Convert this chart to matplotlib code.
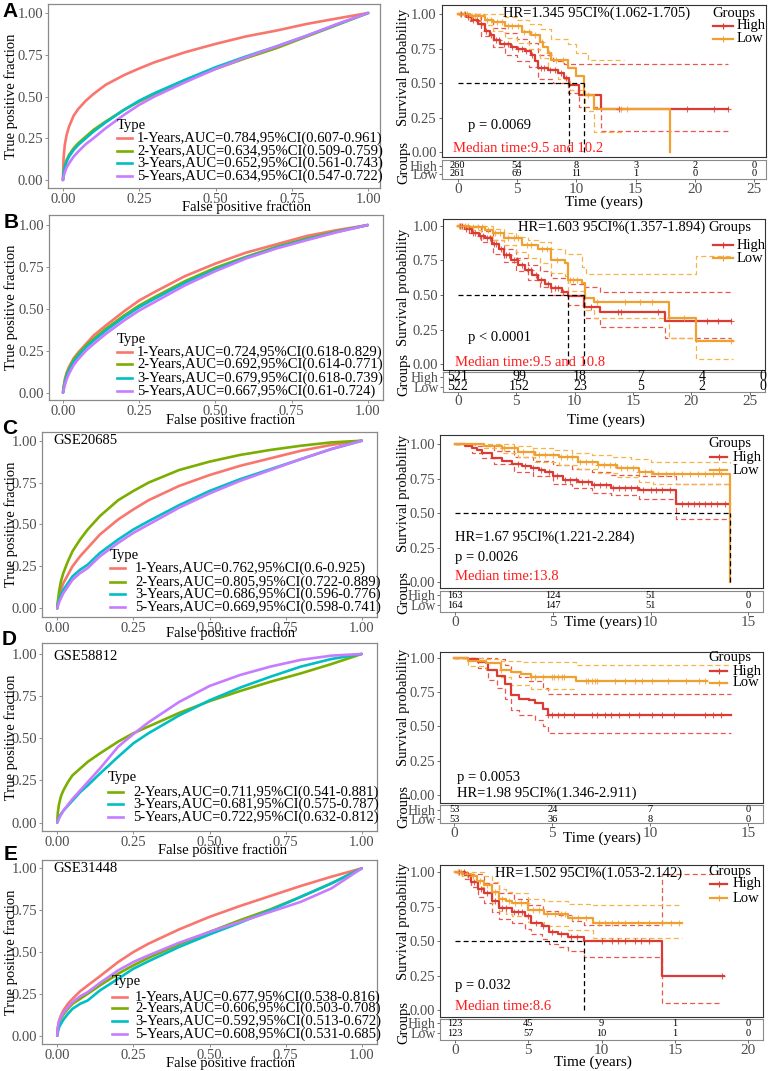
import numpy as np
import matplotlib
matplotlib.use("Agg")
import matplotlib.pyplot as plt
from matplotlib.lines import Line2D

plt.rcParams['font.family'] = ['Liberation Serif', 'DejaVu Serif']
W, H = 769, 1071

# ======================= ROC data =======================
roc_fpr = [0, 0.002, 0.006, 0.012, 0.02, 0.035, 0.05, 0.075, 0.1, 0.14, 0.2, 0.25, 0.3, 0.4, 0.5, 0.6, 0.7, 0.8, 0.9, 1.0]
rocA = [
    [0, 0.13, 0.21, 0.27, 0.32, 0.385, 0.425, 0.475, 0.515, 0.57, 0.628, 0.668, 0.705, 0.765, 0.815, 0.86, 0.895, 0.935, 0.968, 1.0],
    [0, 0.045, 0.085, 0.12, 0.15, 0.19, 0.22, 0.26, 0.30, 0.35, 0.42, 0.47, 0.515, 0.595, 0.665, 0.73, 0.79, 0.86, 0.93, 1.0],
    [0, 0.04, 0.075, 0.11, 0.14, 0.18, 0.21, 0.25, 0.29, 0.345, 0.42, 0.475, 0.52, 0.60, 0.675, 0.74, 0.80, 0.865, 0.933, 1.0],
    [0, 0.02, 0.045, 0.075, 0.10, 0.14, 0.17, 0.215, 0.25, 0.31, 0.39, 0.45, 0.50, 0.585, 0.665, 0.735, 0.80, 0.865, 0.935, 1.0],
]
rocB = [
    [0, 0.035, 0.08, 0.12, 0.155, 0.205, 0.24, 0.29, 0.34, 0.40, 0.485, 0.55, 0.60, 0.695, 0.77, 0.835, 0.885, 0.935, 0.97, 1.0],
    [0, 0.03, 0.07, 0.11, 0.145, 0.195, 0.23, 0.28, 0.32, 0.38, 0.46, 0.52, 0.57, 0.665, 0.745, 0.81, 0.87, 0.92, 0.963, 1.0],
    [0, 0.025, 0.06, 0.10, 0.135, 0.185, 0.22, 0.27, 0.31, 0.37, 0.45, 0.51, 0.56, 0.655, 0.735, 0.805, 0.865, 0.915, 0.96, 1.0],
    [0, 0.015, 0.045, 0.08, 0.115, 0.165, 0.20, 0.25, 0.29, 0.35, 0.43, 0.49, 0.54, 0.64, 0.725, 0.80, 0.86, 0.91, 0.958, 1.0],
]
rocC = [
    [0, 0.03, 0.07, 0.11, 0.15, 0.20, 0.25, 0.31, 0.36, 0.44, 0.53, 0.59, 0.645, 0.73, 0.795, 0.85, 0.895, 0.94, 0.975, 1.0],
    [0, 0.04, 0.10, 0.16, 0.21, 0.28, 0.34, 0.41, 0.47, 0.55, 0.645, 0.70, 0.75, 0.825, 0.875, 0.915, 0.945, 0.97, 0.99, 1.0],
    [0, 0.02, 0.05, 0.08, 0.11, 0.15, 0.19, 0.23, 0.26, 0.33, 0.41, 0.47, 0.52, 0.615, 0.70, 0.77, 0.83, 0.89, 0.95, 1.0],
    [0, 0.012, 0.035, 0.06, 0.09, 0.13, 0.17, 0.21, 0.24, 0.31, 0.39, 0.45, 0.50, 0.60, 0.685, 0.76, 0.825, 0.89, 0.95, 1.0],
]
rocD = [
    [0, 0.06, 0.11, 0.155, 0.19, 0.24, 0.28, 0.32, 0.36, 0.41, 0.48, 0.53, 0.57, 0.65, 0.72, 0.78, 0.835, 0.885, 0.94, 1.0],
    [0, 0.01, 0.03, 0.05, 0.07, 0.10, 0.13, 0.18, 0.22, 0.29, 0.39, 0.47, 0.53, 0.635, 0.725, 0.80, 0.865, 0.925, 0.97, 1.0],
    [0, 0.008, 0.025, 0.045, 0.07, 0.105, 0.14, 0.19, 0.24, 0.32, 0.45, 0.525, 0.595, 0.715, 0.81, 0.875, 0.925, 0.965, 0.99, 1.0],
]
rocE = [
    [0, 0.045, 0.09, 0.12, 0.15, 0.19, 0.22, 0.265, 0.30, 0.355, 0.44, 0.50, 0.55, 0.635, 0.71, 0.775, 0.835, 0.895, 0.95, 1.0],
    [0, 0.04, 0.075, 0.10, 0.125, 0.16, 0.19, 0.22, 0.25, 0.30, 0.37, 0.42, 0.465, 0.545, 0.62, 0.69, 0.755, 0.83, 0.91, 1.0],
    [0, 0.02, 0.05, 0.07, 0.095, 0.13, 0.16, 0.19, 0.21, 0.27, 0.34, 0.40, 0.445, 0.53, 0.605, 0.675, 0.75, 0.83, 0.91, 1.0],
    [0, 0.05, 0.085, 0.11, 0.135, 0.17, 0.20, 0.235, 0.26, 0.315, 0.39, 0.44, 0.48, 0.555, 0.62, 0.68, 0.74, 0.80, 0.88, 1.0],
]
labA = ["1-Years,AUC=0.784,95%CI(0.607-0.961)", "2-Years,AUC=0.634,95%CI(0.509-0.759)",
        "3-Years,AUC=0.652,95%CI(0.561-0.743)", "5-Years,AUC=0.634,95%CI(0.547-0.722)"]
labB = ["1-Years,AUC=0.724,95%CI(0.618-0.829)", "2-Years,AUC=0.692,95%CI(0.614-0.771)",
        "3-Years,AUC=0.679,95%CI(0.618-0.739)", "5-Years,AUC=0.667,95%CI(0.61-0.724)"]
labC = ["1-Years,AUC=0.762,95%CI(0.6-0.925)", "2-Years,AUC=0.805,95%CI(0.722-0.889)",
        "3-Years,AUC=0.686,95%CI(0.596-0.776)", "5-Years,AUC=0.669,95%CI(0.598-0.741)"]
labD = ["2-Years,AUC=0.711,95%CI(0.541-0.881)", "3-Years,AUC=0.681,95%CI(0.575-0.787)",
        "5-Years,AUC=0.722,95%CI(0.632-0.812)"]
labE = ["1-Years,AUC=0.677,95%CI(0.538-0.816)", "2-Years,AUC=0.606,95%CI(0.503-0.708)",
        "3-Years,AUC=0.592,95%CI(0.513-0.672)", "5-Years,AUC=0.608,95%CI(0.531-0.685)"]
roc_ticks = [0, 0.25, 0.5, 0.75, 1.0]
roc_tick_labels = ['0.00', '0.25', '0.50', '0.75', '1.00']
COL4 = ['#F8766D', '#7CAE00', '#00BFC4', '#C77CFF']
COL3 = ['#7CAE00', '#00BFC4', '#C77CFF']

# ======================= KM data =======================
# Panel A
A_high_t = [0, 0.8, 1.2, 1.7, 2.3, 2.7, 3.1, 3.6, 4.5, 5.0, 5.7, 6.2, 6.5, 6.8, 7.6, 8.5, 9.0, 9.35, 10.2, 12.1, 22.8]
A_high_s = [1.0, 0.98, 0.96, 0.93, 0.88, 0.85, 0.81, 0.78, 0.76, 0.745, 0.73, 0.70, 0.66, 0.61, 0.595, 0.57, 0.54, 0.49, 0.415, 0.31, 0.31]
A_low_t = [0, 1.0, 2.3, 3.0, 4.0, 5.4, 6.2, 6.9, 7.2, 7.6, 7.9, 9.3, 10.0, 10.65, 11.5, 17.9]
A_low_s = [1.0, 0.985, 0.96, 0.94, 0.91, 0.87, 0.85, 0.80, 0.76, 0.715, 0.67, 0.61, 0.55, 0.415, 0.31, 0.0]
A_high_up_t = [0, 1.0, 2.0, 3.0, 4.0, 5.0, 6.0, 6.8, 8.0, 9.0, 22.8]
A_high_up_s = [1.0, 1.0, 0.96, 0.90, 0.86, 0.82, 0.79, 0.70, 0.66, 0.64, 0.64]
A_high_lo_t = [0, 1.0, 2.0, 3.0, 4.0, 5.0, 6.0, 6.8, 8.0, 9.3, 10.2, 12.1, 22.8]
A_high_lo_s = [1.0, 0.95, 0.84, 0.76, 0.70, 0.66, 0.62, 0.53, 0.50, 0.43, 0.33, 0.157, 0.157]
A_low_up_t = [0, 3.0, 4.0, 5.0, 6.0, 7.0, 7.9, 9.3, 10.0, 11.0, 14.0]
A_low_up_s = [1.0, 1.0, 0.98, 0.96, 0.93, 0.89, 0.82, 0.78, 0.72, 0.667, 0.667]
A_low_lo_t = [0, 1.0, 2.0, 3.0, 4.0, 5.0, 6.0, 6.9, 7.6, 8.5, 9.5, 10.7, 11.5, 14.0]
A_low_lo_s = [1.0, 0.96, 0.92, 0.88, 0.83, 0.79, 0.75, 0.68, 0.60, 0.53, 0.45, 0.30, 0.145, 0.145]
A_high_cens = [0.3, 0.6, 0.9, 1.3, 1.6, 2.0, 2.4, 2.8, 3.2, 3.5, 3.9, 4.2, 4.6, 5.1, 5.4, 5.8, 6.3, 7.0, 7.3, 7.8, 8.2, 8.7, 9.1, 13.6, 19.3, 21.6, 22.8]
A_low_cens = [0.2, 0.5, 0.8, 1.2, 1.5, 1.9, 2.5, 2.8, 3.3, 3.7, 4.2, 4.6, 5.1, 5.6, 6.0, 6.5, 7.1, 7.7, 8.3, 8.9, 11.0, 13.8, 14.3]
A_medians = [9.35, 10.65]
A_risk_t = [0, 5, 10, 15, 20, 25]
A_risk_high = [260, 54, 8, 3, 2, 0]
A_risk_low = [261, 69, 11, 1, 0, 0]

# Panel B
B_high_t = [0, 0.6, 1.2, 1.8, 2.3, 2.9, 3.5, 4.0, 4.6, 5.2, 5.8, 6.4, 6.9, 7.5, 8.0, 8.9, 9.4, 10.8, 12.2, 17.7, 23.4]
B_high_s = [1.0, 0.98, 0.95, 0.93, 0.91, 0.87, 0.83, 0.79, 0.75, 0.715, 0.68, 0.645, 0.61, 0.58, 0.55, 0.52, 0.49, 0.415, 0.375, 0.31, 0.31]
B_low_t = [0, 1.0, 2.3, 3.0, 4.0, 5.5, 6.9, 8.0, 9.2, 9.4, 10.6, 10.9, 11.7, 18.1, 20.4, 23.6]
B_low_s = [1.0, 0.99, 0.97, 0.95, 0.91, 0.86, 0.83, 0.75, 0.73, 0.61, 0.585, 0.48, 0.45, 0.335, 0.167, 0.167]
B_high_up_t = [0, 1.0, 2.0, 3.0, 4.0, 5.0, 6.0, 7.0, 8.0, 9.4, 10.8, 12.2, 23.4]
B_high_up_s = [1.0, 1.0, 0.96, 0.90, 0.83, 0.77, 0.72, 0.67, 0.62, 0.58, 0.56, 0.52, 0.52]
B_high_lo_t = [0, 1.0, 2.0, 3.0, 4.0, 5.0, 6.0, 7.0, 8.0, 9.4, 10.8, 12.2, 17.7, 23.4]
B_high_lo_s = [1.0, 0.95, 0.88, 0.80, 0.74, 0.67, 0.61, 0.56, 0.50, 0.43, 0.33, 0.27, 0.19, 0.19]
B_low_up_t = [0, 2.0, 3.0, 4.0, 5.0, 6.0, 7.0, 8.0, 9.2, 10.6, 11.0, 20.4, 23.6]
B_low_up_s = [1.0, 1.0, 0.98, 0.95, 0.92, 0.90, 0.88, 0.83, 0.80, 0.70, 0.655, 0.78, 0.78]
B_low_lo_t = [0, 1.0, 2.0, 3.0, 4.0, 5.0, 6.0, 7.0, 8.0, 9.2, 9.4, 10.9, 11.7, 18.1, 20.4, 23.6]
B_low_lo_s = [1.0, 0.97, 0.93, 0.90, 0.86, 0.81, 0.77, 0.73, 0.66, 0.64, 0.53, 0.39, 0.33, 0.19, 0.04, 0.04]
B_high_cens = [0.2, 0.4, 0.7, 1.0, 1.3, 1.5, 1.9, 2.2, 2.5, 2.8, 3.1, 3.3, 3.7, 4.1, 4.4, 4.8, 5.1, 5.5, 6.0, 6.3, 6.7, 7.1, 7.7, 8.3, 8.6, 9.0, 11.4, 13.7, 14.0, 17.1, 21.3, 22.3, 23.4]
B_low_cens = [0.1, 0.3, 0.6, 0.9, 1.3, 1.7, 2.1, 2.6, 3.2, 3.6, 4.3, 4.8, 5.2, 5.9, 6.3, 7.2, 7.6, 8.5, 9.6, 9.9, 10.2, 11.9, 14.3, 15.6, 16.6, 19.4, 23.4]
B_medians = [9.4, 10.8]
B_risk_t = [0, 5, 10, 15, 20, 25]
B_risk_high = [521, 99, 18, 7, 4, 0]
B_risk_low = [522, 152, 23, 5, 2, 0]

# Panel C (GSE20685)
C_high_t = [0, 0.5, 0.85, 1.1, 1.4, 1.9, 2.4, 2.9, 3.4, 3.9, 4.3, 4.6, 5.0, 5.5, 6.3, 7.0, 8.0, 9.4, 11.3, 14.05]
C_high_s = [1.0, 0.99, 0.97, 0.955, 0.935, 0.90, 0.88, 0.86, 0.845, 0.83, 0.815, 0.80, 0.77, 0.74, 0.73, 0.705, 0.685, 0.67, 0.57, 0.57]
C_low_t = [0, 1.5, 2.4, 3.2, 4.1, 5.3, 6.3, 7.3, 8.3, 9.4, 10.1, 14.05]
C_low_s = [1.0, 0.99, 0.97, 0.945, 0.92, 0.905, 0.875, 0.85, 0.825, 0.80, 0.785, 0.0]
C_high_up_t = [0, 1.0, 2.0, 3.0, 4.0, 5.0, 6.0, 7.0, 8.0, 9.4, 11.3, 14.05]
C_high_up_s = [1.0, 0.99, 0.95, 0.91, 0.88, 0.85, 0.82, 0.80, 0.78, 0.77, 0.71, 0.71]
C_high_lo_t = [0, 0.85, 1.4, 2.0, 3.0, 4.0, 5.0, 6.0, 7.0, 8.0, 9.4, 11.3, 14.05]
C_high_lo_s = [1.0, 0.94, 0.90, 0.86, 0.80, 0.77, 0.71, 0.68, 0.65, 0.63, 0.60, 0.46, 0.46]
C_low_up_t = [0, 2.0, 3.0, 4.0, 5.0, 6.0, 7.0, 8.0, 9.0, 10.0, 14.05]
C_low_up_s = [1.0, 1.0, 0.99, 0.97, 0.955, 0.94, 0.925, 0.905, 0.89, 0.875, 0.865]
C_low_lo_t = [0, 1.5, 2.4, 3.2, 4.1, 5.3, 6.3, 7.3, 8.3, 9.4, 10.1, 14.05]
C_low_lo_s = [1.0, 0.97, 0.94, 0.91, 0.87, 0.85, 0.82, 0.79, 0.76, 0.73, 0.715, 0.71]
C_high_cens = [3.2, 3.6, 4.0, 4.4, 4.8, 5.2, 5.6, 5.9, 6.2, 6.5, 6.8, 7.1, 7.4, 7.7, 8.1, 8.4, 8.7, 9.0, 9.3, 9.6, 10.0, 10.3, 10.6, 11.0, 11.6, 11.9, 12.2, 12.5, 12.8, 13.1, 13.4, 13.8]
C_low_cens = [2.5, 3.0, 3.5, 4.0, 4.3, 4.6, 5.0, 5.4, 5.7, 6.0, 6.4, 6.7, 7.0, 7.3, 7.6, 7.9, 8.2, 8.5, 8.8, 9.1, 9.4, 9.7, 10.0, 10.4, 10.8, 11.2, 11.6, 12.0, 12.4, 12.8, 13.2, 13.6]
C_medians = [14.05]
C_risk_t = [0, 5, 10, 15]
C_risk_high = [163, 124, 51, 0]
C_risk_low = [164, 147, 51, 0]

# Panel D (GSE58812)
D_high_t = [0, 0.7, 1.2, 1.6, 1.7, 2.2, 2.6, 2.9, 3.3, 3.8, 4.1, 4.5, 4.8, 14.1]
D_high_s = [1.0, 0.995, 0.97, 0.96, 0.91, 0.87, 0.81, 0.73, 0.70, 0.69, 0.67, 0.63, 0.58, 0.58]
D_low_t = [0, 0.7, 1.6, 2.4, 2.9, 3.4, 3.9, 6.2, 12.9]
D_low_s = [1.0, 0.98, 0.96, 0.915, 0.90, 0.88, 0.86, 0.83, 0.83]
D_high_up_t = [0, 2.2, 2.6, 2.9, 3.3, 3.8, 4.5, 4.8, 14.1]
D_high_up_s = [1.0, 0.99, 0.95, 0.90, 0.86, 0.83, 0.78, 0.735, 0.735]
D_high_lo_t = [0, 1.2, 1.7, 2.2, 2.6, 2.9, 3.3, 4.1, 4.5, 4.8, 14.1]
D_high_lo_s = [1.0, 0.93, 0.84, 0.78, 0.70, 0.62, 0.58, 0.55, 0.50, 0.455, 0.455]
D_low_up_t = [0, 1.6, 2.4, 3.4, 6.2, 14.1]
D_low_up_s = [1.0, 0.99, 0.98, 0.97, 0.95, 0.95]
D_low_lo_t = [0, 0.7, 1.6, 2.4, 2.9, 3.9, 6.2]
D_low_lo_s = [1.0, 0.94, 0.91, 0.86, 0.80, 0.775, 0.775]
D_high_cens = [4.8, 5.0, 5.3, 5.6, 6.1, 7.0, 7.3, 7.7, 8.0, 8.4, 8.9, 9.4, 10.1, 10.6, 11.2, 12.8, 13.2, 13.6]
D_low_cens = [3.9, 4.1, 4.5, 5.0, 5.1, 5.3, 5.5, 5.6, 6.7, 6.8, 7.0, 7.2, 7.3, 8.2, 8.7, 9.2, 9.6, 10.1, 10.9, 11.8, 12.5, 12.8]
D_medians = []
D_risk_t = [0, 5, 10, 15]
D_risk_high = [53, 24, 7, 0]
D_risk_low = [53, 36, 8, 0]

# Panel E (GSE31448)
E_high_t = [0, 0.7, 1.1, 1.6, 2.0, 2.5, 3.0, 3.9, 4.8, 5.2, 5.9, 6.4, 7.0, 7.7, 8.8, 14.1, 18.3]
E_high_s = [1.0, 0.98, 0.93, 0.88, 0.85, 0.79, 0.74, 0.71, 0.68, 0.63, 0.61, 0.57, 0.556, 0.53, 0.50, 0.247, 0.247]
E_low_t = [0, 0.5, 1.1, 1.5, 2.0, 2.5, 3.0, 3.5, 3.9, 5.0, 6.1, 7.7, 9.4, 15.5]
E_low_s = [1.0, 0.99, 0.97, 0.94, 0.91, 0.86, 0.81, 0.79, 0.775, 0.725, 0.70, 0.67, 0.635, 0.635]
E_high_up_t = [0, 1.0, 2.0, 3.0, 4.0, 5.0, 6.0, 7.0, 8.0, 8.8, 14.1, 18.0]
E_high_up_s = [1.0, 0.99, 0.92, 0.85, 0.81, 0.76, 0.72, 0.69, 0.65, 0.62, 0.985, 0.985]
E_high_lo_t = [0, 0.7, 1.1, 1.6, 2.0, 2.5, 3.0, 3.9, 4.8, 5.2, 5.9, 6.4, 7.0, 7.7, 8.8, 14.1, 18.0]
E_high_lo_s = [1.0, 0.95, 0.89, 0.82, 0.78, 0.71, 0.66, 0.63, 0.59, 0.55, 0.52, 0.48, 0.46, 0.43, 0.387, 0.056, 0.056]
E_low_up_t = [0, 1.1, 2.0, 2.5, 3.0, 3.5, 3.9, 5.0, 6.1, 7.7, 9.4, 15.5]
E_low_up_s = [1.0, 1.0, 0.97, 0.93, 0.88, 0.86, 0.85, 0.81, 0.79, 0.77, 0.765, 0.765]
E_low_lo_t = [0, 0.5, 1.1, 1.5, 2.0, 2.5, 3.0, 3.5, 3.9, 5.0, 6.1, 7.7, 9.4, 15.5]
E_low_lo_s = [1.0, 0.97, 0.93, 0.89, 0.85, 0.78, 0.72, 0.70, 0.685, 0.64, 0.61, 0.58, 0.525, 0.525]
E_high_cens = [0.3, 0.6, 0.9, 1.3, 1.8, 2.2, 2.7, 3.2, 3.5, 4.0, 4.3, 4.6, 5.0, 5.5, 6.0, 6.6, 7.2, 7.9, 8.3, 10.0, 10.7, 11.1, 11.6, 12.3, 12.7, 13.2, 18.2]
E_low_cens = [0.2, 0.4, 0.8, 1.2, 1.7, 2.2, 2.7, 3.2, 3.7, 4.1, 4.5, 4.9, 5.3, 5.7, 6.3, 6.8, 7.2, 7.5, 8.0, 8.4, 8.9, 9.8, 10.2, 10.7, 11.1, 11.6, 12.5, 13.2, 14.1, 14.7, 15.3]
E_medians = [8.8]
E_risk_t = [0, 5, 10, 15, 20]
E_risk_high = [123, 45, 9, 1, 0]
E_risk_low = [123, 57, 10, 1, 0]

surv_ticks = [0, 0.25, 0.5, 0.75, 1.0]
surv_tick_labels = ['0.00', '0.25', '0.50', '0.75', '1.00']
groups = ['High', 'Low']

# ======================= styling =======================
HIGH_C, LOW_C = '#DA3B33', '#F0A030'
HIGH_CI, LOW_CI = '#E8574E', '#F5B445'
GREY_TXT = '#4D4D4D'

fig = plt.figure(figsize=(W / 100, H / 100), dpi=100)


def fx(x):
    return x / W


def fy(y):
    return 1 - y / H


def px_axes(box):
    x0, y0, x1, y1 = box
    return fig.add_axes([x0 / W, 1 - y1 / H, (x1 - x0) / W, (y1 - y0) / H])


def ftext(x, y, s, **kw):
    kw.setdefault('va', 'center')
    kw.setdefault('ha', 'left')
    fig.text(fx(x), fy(y), s, **kw)


def draw_roc(box, xlim, ylim, curves, colors, labels, leg, xlab_px, ylab_x, gse=None):
    ax = px_axes(box)
    for tpr, c in zip(curves, colors):
        ax.plot(roc_fpr, tpr, color=c, lw=1.9, solid_capstyle='round', solid_joinstyle='round')
    ax.set_xlim(xlim)
    ax.set_ylim(ylim)
    ax.set_xticks(roc_ticks)
    ax.set_xticklabels(roc_tick_labels)
    ax.set_yticks(roc_ticks)
    ax.set_yticklabels(roc_tick_labels)
    ax.tick_params(length=2.5, width=0.6, color='#7F7F7F', labelcolor=GREY_TXT,
                   labelsize=10.5, pad=1.2)
    for sp in ax.spines.values():
        sp.set_color('#8A8A8A')
        sp.set_linewidth(0.9)
    # manual legend
    lx0, lx1, tx, ty, rows = leg
    ftext(lx0, ty, 'Type', fontsize=10.5)
    for lab, c, ry in zip(labels, colors, rows):
        fig.add_artist(Line2D([fx(lx0), fx(lx1)], [fy(ry), fy(ry)], color=c, lw=1.9))
        ftext(tx, ry, lab, fontsize=10.5)
    ftext(xlab_px[0], xlab_px[1], 'False positive fraction', ha='center', fontsize=10.5)
    ftext(ylab_x, (box[1] + box[3]) / 2, 'True positive fraction', ha='center',
          rotation=90, fontsize=10.5)
    if gse is not None:
        ftext(gse[1], gse[2], gse[0], fontsize=10.5)
    return ax


def step_at(t, s, tc):
    idx = np.searchsorted(np.asarray(t), np.asarray(tc), side='right') - 1
    return np.asarray(s)[idx]


def draw_km(box, xlim, ylim, high, low, high_ci, low_ci, cens, medians,
            texts, leg, tbox, txlim, trows, risk_t, risk_h, risk_l, risk_fs,
            ticks, tick_pad, time_px, surv_y, grp_y):
    ax = px_axes(box)
    dash = (0, (4, 2.5))
    for (t, s), c in zip(high_ci + low_ci, [HIGH_CI, HIGH_CI, LOW_CI, LOW_CI]):
        ax.step(t, s, where='post', color=c, lw=0.9, ls=dash)
    for (t, s), c in zip([high, low], [HIGH_C, LOW_C]):
        ax.step(t, s, where='post', color=c, lw=1.6)
    for (t, s), tc, c in zip([high, low], cens, [HIGH_C, LOW_C]):
        ax.plot(tc, step_at(t, s, tc), ls='none', marker='+', ms=5, mew=0.8, color=c, alpha=0.8)
    if medians:
        ax.plot([0, max(medians)], [0.5, 0.5], color='black', lw=0.9, ls=dash)
        for m in medians:
            ax.plot([m, m], [0, 0.5], color='black', lw=0.9, ls=dash)
    ax.set_xlim(xlim)
    ax.set_ylim(ylim)
    ax.set_xticks([])
    ax.set_yticks(surv_ticks)
    ax.set_yticklabels(surv_tick_labels)
    ax.tick_params(length=2.5, width=0.6, color='#555555', labelcolor=GREY_TXT,
                   labelsize=10.5, pad=1.2)
    for sp in ax.spines.values():
        sp.set_color('#333333')
        sp.set_linewidth(0.8)
    for s, x, y, c in texts:
        ftext(x, y, s, color=c, fontsize=10.5)
    gx, gy, lx0, lx1, tx, hy, ly = leg
    ftext(gx, gy, 'Groups', fontsize=10.5)
    for g, c, yy in zip(groups, [HIGH_C, LOW_C], [hy, ly]):
        fig.add_artist(Line2D([fx(lx0), fx(lx1)], [fy(yy), fy(yy)], color=c, lw=1.6))
        fig.add_artist(Line2D([fx((lx0 + lx1) / 2)], [fy(yy)], color=c, marker='+',
                              ms=5, mew=0.8, ls='none'))
        ftext(tx, yy, g, fontsize=10.5)

    # risk table
    hy_px, ly_px = trows
    span = ly_px - hy_px
    ylo = 0 - (tbox[3] - ly_px) / span
    yhi = 1 + (hy_px - tbox[1]) / span
    tax = px_axes(tbox)
    tax.set_xlim(txlim)
    tax.set_ylim(ylo, yhi)
    for t, nh, nl in zip(risk_t, risk_h, risk_l):
        tax.text(t, 1, str(nh), ha='center', va='center', fontsize=risk_fs)
        tax.text(t, 0, str(nl), ha='center', va='center', fontsize=risk_fs)
    tax.set_xticks([])
    tax.set_yticks([1, 0])
    tax.set_yticklabels(groups)
    tax.tick_params(axis='y', length=2.5, width=0.6, color='#555555',
                    labelcolor=GREY_TXT, labelsize=10, pad=0.5)
    for sp in tax.spines.values():
        sp.set_color('#8A8A8A')
        sp.set_linewidth(0.8)
    # time axis ticks (plot scale)
    kax = px_axes(tbox)
    kax.patch.set_alpha(0)
    kax.set_xlim(xlim)
    kax.set_yticks([])
    for sp in kax.spines.values():
        sp.set_visible(False)
    kax.set_xticks(ticks)
    kax.set_xticklabels([str(t) for t in ticks])
    kax.tick_params(axis='x', length=2.5, width=0.6, color='#555555',
                    labelcolor=GREY_TXT, labelsize=11, pad=tick_pad)
    ftext(time_px[0], time_px[1], 'Time (years)', ha='center', fontsize=11)
    ftext(404, surv_y, 'Survival probability', ha='center', rotation=90, fontsize=10.5)
    ftext(404, grp_y, 'Groups', ha='center', rotation=90, fontsize=10.5)


# ======================= ROC panels =======================
draw_roc((48, 4, 380, 188), (-0.049, 1.039), (-0.048, 1.054), rocA, COL4, labA,
         (117, 132, 137, 125, [138, 151, 163, 176]), (246, 207), 11)
draw_roc((49, 215, 383, 400), (-0.046, 1.05), (-0.044, 1.06), rocB, COL4, labB,
         (117, 132, 137, 340, [352, 364, 378, 391]), (230, 420), 11)
draw_roc((42, 432, 377, 617), (-0.05, 1.05), (-0.052, 1.052), rocC, COL4, labC,
         (110, 125, 135, 555, [568, 582, 594, 607]), (230, 633), 11,
         gse=('GSE20685', 53, 441))
draw_roc((42, 643, 377, 831), (-0.05, 1.05), (-0.05, 1.065), rocD, COL3, labD,
         (108, 123, 133, 777, [792, 804, 817]), (223, 850), 11,
         gse=('GSE58812', 53, 656))
draw_roc((42, 860, 377, 1044), (-0.05, 1.05), (-0.05, 1.05), rocE, COL4, labE,
         (112, 127, 135, 982, [997, 1008, 1021, 1034]), (230, 1063), 11,
         gse=('GSE31448', 53, 868))

# ======================= KM panels =======================
draw_km((441.7, 5, 766, 157), (-1.35, 26.0), (-0.034, 1.065),
        (A_high_t, A_high_s), (A_low_t, A_low_s),
        [(A_high_up_t, A_high_up_s), (A_high_lo_t, A_high_lo_s)],
        [(A_low_up_t, A_low_up_s), (A_low_lo_t, A_low_lo_s)],
        [A_high_cens, A_low_cens], A_medians,
        [('HR=1.345 95CI%(1.062-1.705)', 503, 13, 'black'),
         ('p = 0.0069', 468, 125, 'black'),
         ('Median time:9.5 and 10.2', 453, 148, '#FF1A1A')],
        (712, 13, 713, 733, 737, 26, 39),
        (441.7, 160, 766, 179), (-1.35, 26.0), (165.7, 174), A_risk_t, A_risk_high, A_risk_low, 7.5,
        [0, 5, 10, 15, 20, 25], 0.5, (604, 202), 67, 162)

draw_km((443, 219, 765, 370), (-1.26, 26.3), (-0.043, 1.05),
        (B_high_t, B_high_s), (B_low_t, B_low_s),
        [(B_high_up_t, B_high_up_s), (B_high_lo_t, B_high_lo_s)],
        [(B_low_up_t, B_low_up_s), (B_low_lo_t, B_low_lo_s)],
        [B_high_cens, B_low_cens], B_medians,
        [('HR=1.603 95CI%(1.357-1.894)', 518, 227, 'black'),
         ('p < 0.0001', 468, 337, 'black'),
         ('Median time:9.5 and 10.8', 455, 363, '#FF1A1A')],
        (708, 227, 713, 733, 737, 245, 258),
        (443, 372, 765, 392), (-1.23, 25.16), (377, 387), B_risk_t, B_risk_high, B_risk_low, 10,
        [0, 5, 10, 15, 20, 25], -0.5, (606, 420), 287, 375)

draw_km((440, 435, 763, 588), (-0.77, 15.75), (-0.041, 1.067),
        (C_high_t, C_high_s), (C_low_t, C_low_s),
        [(C_high_up_t, C_high_up_s), (C_high_lo_t, C_high_lo_s)],
        [(C_low_up_t, C_low_up_s), (C_low_lo_t, C_low_lo_s)],
        [C_high_cens, C_low_cens], C_medians,
        [('HR=1.67 95CI%(1.221-2.284)', 455, 537, 'black'),
         ('p = 0.0026', 455, 557, 'black'),
         ('Median time:13.8', 455, 577, '#FF1A1A')],
        (708, 443, 710, 727, 733, 457, 470),
        (440, 591, 763, 612), (-0.77, 15.75), (595, 605), C_risk_t, C_risk_high, C_risk_low, 7.5,
        [0, 5, 10, 15], 0.5, (603, 622), 493, 593)

draw_km((440, 652, 763, 803), (-0.73, 15.75), (-0.06, 1.044),
        (D_high_t, D_high_s), (D_low_t, D_low_s),
        [(D_high_up_t, D_high_up_s), (D_high_lo_t, D_high_lo_s)],
        [(D_low_up_t, D_low_up_s), (D_low_lo_t, D_low_lo_s)],
        [D_high_cens, D_low_cens], D_medians,
        [('p = 0.0053', 457, 777, 'black'),
         ('HR=1.98 95CI%(1.346-2.911)', 457, 793, 'black')],
        (708, 657, 710, 727, 733, 671, 683),
        (440, 805, 763, 823), (-0.73, 15.75), (810, 819), D_risk_t, D_risk_high, D_risk_low, 7.5,
        [0, 5, 10, 15], 0.5, (602, 838), 707, 807)

draw_km((440, 865, 763, 1017), (-1.02, 20.99), (-0.049, 1.053),
        (E_high_t, E_high_s), (E_low_t, E_low_s),
        [(E_high_up_t, E_high_up_s), (E_high_lo_t, E_high_lo_s)],
        [(E_low_up_t, E_low_up_s), (E_low_lo_t, E_low_lo_s)],
        [E_high_cens, E_low_cens], E_medians,
        [('HR=1.502 95CI%(1.053-2.142)', 495, 873, 'black'),
         ('p = 0.032', 455, 985, 'black'),
         ('Median time:8.6', 455, 1006, '#FF1A1A')],
        (708, 872, 710, 727, 733, 884, 898),
        (440, 1019, 763, 1040), (-1.02, 20.99), (1023, 1033), E_risk_t, E_risk_high, E_risk_low, 7.5,
        [0, 5, 10, 15, 20], 0.5, (593, 1062), 921, 1022)

# ======================= panel letters =======================
for letter, x, y in [('A', 2, 2), ('B', 4, 213), ('C', 2, 419), ('D', 2, 630), ('E', 4, 845)]:
    fig.text(fx(x), fy(y), letter, ha='left', va='top', fontsize=15,
             fontweight='bold', family=['Liberation Sans', 'DejaVu Sans'])

fig.savefig('out.png', dpi=100)
